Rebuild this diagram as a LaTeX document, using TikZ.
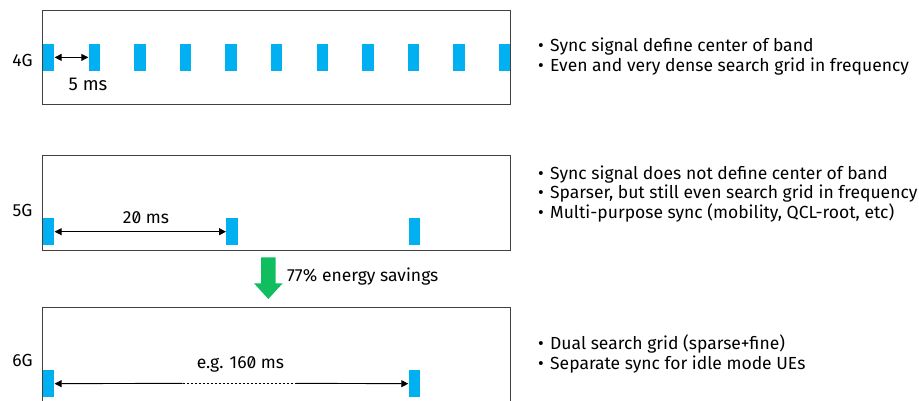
\documentclass[tikz,border=0pt]{standalone}
\usepackage{fontspec}
\setmainfont{Fira Sans}
\newfontfamily\slz{Fira Sans}[Numbers=SlashedZero]
\usetikzlibrary{arrows.meta}
\definecolor{sigblue}{RGB}{0,176,240}
\definecolor{savegreen}{RGB}{16,190,96}
\definecolor{framegray}{RGB}{64,64,64}
\begin{document}
\begin{tikzpicture}[x=1pt,y=-1pt,
  sig/.style={fill=sigblue, inner sep=0pt, minimum width=11.5pt, minimum height=27pt, draw=none, anchor=north west},
  panel/.style={draw=framegray, line width=1pt},
  gen/.style={font=\fontsize{17.5}{20}\selectfont, inner sep=0pt},
  lbl/.style={font=\fontsize{17.5}{20}\selectfont, inner sep=0pt},
  bullets/.style={align=left, anchor=west, font=\fontsize{17.5}{19.5}\selectfont, inner sep=0pt},
  dim/.style={{Triangle[length=7pt,width=7pt]}-{Triangle[length=7pt,width=7pt]}, line width=0.9pt},
  dimL/.style={{Triangle[length=7pt,width=7pt]}-, line width=0.9pt},
  dimR/.style={-{Triangle[length=7pt,width=7pt]}, line width=0.9pt},
  dimD/.style={line width=0.7pt, dash pattern=on 2.5pt off 1.5pt}
]
\useasboundingbox (0,0) rectangle (919,401);

% ---------- 4G ----------
\draw[panel] (42,10.5) rectangle (510.5,104.5);
\node[gen] (g4) at (22.5,60) {4G};
\foreach \i in {0,...,10} {
  \node[sig] (s4-\i) at ({42.7+45.6*\i},43.7) {};
}
\draw[dim] (s4-0.east) -- (s4-1.west);
\node[lbl, font=\fontsize{18.5}{20}\selectfont] (t5) at (88,84) {5 ms};
\node[bullets] (b4) at (538,56.7) {%
  \makebox[12pt][l]{•}Sync signal define center of band\\
  \makebox[12pt][l]{•}Even and very dense search grid in frequency};

% ---------- 5G ----------
\draw[panel] (42,155.7) rectangle (510.5,250);
\node[gen] (g5) at (22.5,210) {5G};
\node[sig] (s5-0) at (42.7,218) {};
\node[sig] (s5-1) at (226,218) {};
\node[sig] (s5-2) at (408.3,218) {};
\draw[dim] (s5-0.east) -- (s5-1.west);
\node[lbl] (t20) at (146,217.5) {\slz 20 ms};
\node[bullets] (b5) at (538,194) {%
  \makebox[12pt][l]{•}Sync signal does not define center of band\\
  \makebox[12pt][l]{•}Sparser, but still even search grid in frequency\\
  \makebox[12pt][l]{•}Multi-purpose sync (mobility, QCL-root, etc)};

% ---------- saving arrow ----------
\fill[savegreen] (261,257.3) -- (275.7,257.3) -- (275.7,283.3) -- (282.7,283.3)
  -- (268.3,299) -- (254,283.3) -- (261,283.3) -- cycle;
\node[lbl, anchor=west] (sav) at (287,276.7) {77\% energy savings};

% ---------- 6G ----------
\draw[panel] (42,403) -- (42,307.7) -- (510.5,307.7) -- (510.5,403);
\node[gen] (g6) at (22.5,360) {6G};
\node[sig] (s6-0) at (42.7,370) {};
\node[sig] (s6-1) at (408.3,370) {};
\coordinate (d1) at (182.7,383.3);
\coordinate (d2) at (296,383.3);
\draw[dimL] (s6-0.east) -- (d1);
\draw[dimD] (d1) -- (d2);
\draw[dimR] (d2) -- (s6-1.west);
\node[lbl] (t160) at (240.5,364.3) {\slz e.g. 160 ms};
\node[bullets] (b6) at (538,354) {%
  \makebox[12pt][l]{•}Dual search grid (sparse+fine)\\
  \makebox[12pt][l]{•}Separate sync for idle mode UEs};
\end{tikzpicture}
\end{document}
